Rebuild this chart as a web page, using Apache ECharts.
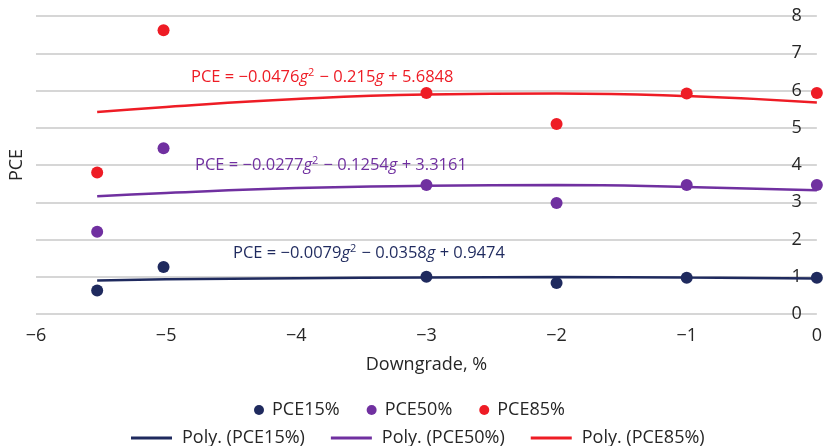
<!DOCTYPE html>
<html>
<head>
<meta charset="utf-8">
<script src="https://cdn.jsdelivr.net/npm/echarts@6/dist/echarts.min.js"></script>
<style>
html,body{margin:0;padding:0;background:#fff;}
#chart{width:825px;height:446px;}
</style>
</head>
<body>
<div id="chart"></div>
<script>
// Data
const grade = [-5.53, -5.02, -3, -2, -1, 0];
const pce15 = [0.63, 1.26, 1.0, 0.83, 0.97, 0.97];
const pce50 = [2.21, 4.45, 3.46, 2.98, 3.46, 3.46];
const pce85 = [3.80, 7.62, 5.93, 5.10, 5.92, 5.93];

// Polynomial trend lines as drawn in the picture
const trendX = [-5.53, -5, -4, -3, -2, -1, 0];
const trend15 = [0.90, 0.93, 0.96, 0.98, 0.99, 0.98, 0.95];
const trend50 = [3.16, 3.25, 3.38, 3.44, 3.46, 3.41, 3.32];
const trend85 = [5.42, 5.56, 5.77, 5.89, 5.92, 5.85, 5.68];

const yTicks = [0, 1, 2, 3, 4, 5, 6, 7, 8];
const xTicks = [-6, -5, -4, -3, -2, -1, 0];

const seriesNames = ['PCE15%', 'PCE50%', 'PCE85%'];
const trendNames = ['Poly. (PCE15%)', 'Poly. (PCE50%)', 'Poly. (PCE85%)'];
const equations = [
  ['−0.0079', '−0.0358', '0.9474'],
  ['−0.0277', '−0.1254', '3.3161'],
  ['−0.0476', '−0.215', '5.6848']
];

const colors = ['#1f2a5e', '#7030a0', '#ee1c25'];
const FONT = '"Open Sans", "Noto Sans", sans-serif';
const TXT = '#262626';

const zip = (xs, ys) => xs.map((x, i) => [x, ys[i]]);
const pointSets = [pce15, pce50, pce85];
const trendSets = [trend15, trend50, trend85];

function eqText(e) {
  const sub = e[1].replace('−', '');
  return '{a|PCE = ' + e[0] + '}{i|g}{s|2}{a| − ' + sub + '}{i|g}{a| + ' + e[2] + '}';
}
function richFor(c) {
  return {
    a: { fontSize: 16.5, fill: c, fontFamily: FONT },
    i: { fontSize: 16.5, fill: c, fontFamily: FONT, fontStyle: 'italic' },
    s: { fontSize: 11, fill: c, fontFamily: FONT, verticalAlign: 'top', padding: [0, 1, 9, 0] }
  };
}
const eqPos = [[233, 253], [195, 165], [191, 77]];

const series = [];
for (let k = 0; k < 3; k++) {
  series.push({
    name: trendNames[k],
    type: 'line',
    data: zip(trendX, trendSets[k]),
    smooth: true,
    showSymbol: false,
    symbol: 'none',
    lineStyle: { color: colors[k], width: 2.5 },
    itemStyle: { color: colors[k] },
    z: 2
  });
}
for (let k = 0; k < 3; k++) {
  series.push({
    name: seriesNames[k],
    type: 'scatter',
    data: zip(grade, pointSets[k]),
    symbolSize: 12,
    itemStyle: { color: colors[k], opacity: 1 },
    z: 3
  });
}

const chart = echarts.init(document.getElementById('chart'), null, { renderer: 'canvas' });
chart.setOption({
  animation: false,
  backgroundColor: '#fff',
  textStyle: { fontFamily: FONT },
  grid: { left: 36, right: 3, top: 16, bottom: 132, containLabel: false },
  xAxis: {
    type: 'value', min: xTicks[0], max: xTicks[xTicks.length - 1], interval: 1,
    name: 'Downgrade, %', nameLocation: 'middle', nameGap: 42,
    nameTextStyle: { fontSize: 18, color: TXT, fontFamily: FONT },
    axisLine: { show: false }, axisTick: { show: false }, splitLine: { show: false },
    axisLabel: { fontSize: 18, color: TXT, margin: 13, fontFamily: FONT,
      formatter: v => String(v).replace('-', '−') }
  },
  yAxis: {
    type: 'value', min: yTicks[0], max: yTicks[yTicks.length - 1], interval: 1,
    position: 'right',
    axisLine: { show: false }, axisTick: { show: false },
    splitLine: { lineStyle: { color: '#c8c8c8', width: 1.5 } },
    axisLabel: { inside: true, fontSize: 18, color: TXT, margin: 15, fontFamily: FONT }
  },
  legend: [
    { data: seriesNames, top: 396, left: 249, icon: 'circle', itemWidth: 10, itemHeight: 10,
      itemGap: 27, textStyle: { fontSize: 18, color: TXT, fontFamily: FONT, padding: [0, 0, 0, 3] } },
    { data: trendNames, top: 424, left: 126, icon: 'rect', itemWidth: 41, itemHeight: 3,
      itemGap: 26, textStyle: { fontSize: 18, color: TXT, fontFamily: FONT, padding: [0, 0, 0, 5] } }
  ],
  graphic: [
    { type: 'text', x: 17, y: 165, rotation: Math.PI / 2,
      style: { text: 'PCE', fontSize: 18, fill: TXT, fontFamily: FONT, align: 'center', verticalAlign: 'middle' } }
  ].concat(equations.map((e, k) => ({
    type: 'text', x: eqPos[k][0], y: eqPos[k][1], z: 10,
    style: { text: eqText(e), rich: richFor(colors[k]), verticalAlign: 'middle', align: 'left' }
  }))),
  series: series
});
</script>
</body>
</html>
